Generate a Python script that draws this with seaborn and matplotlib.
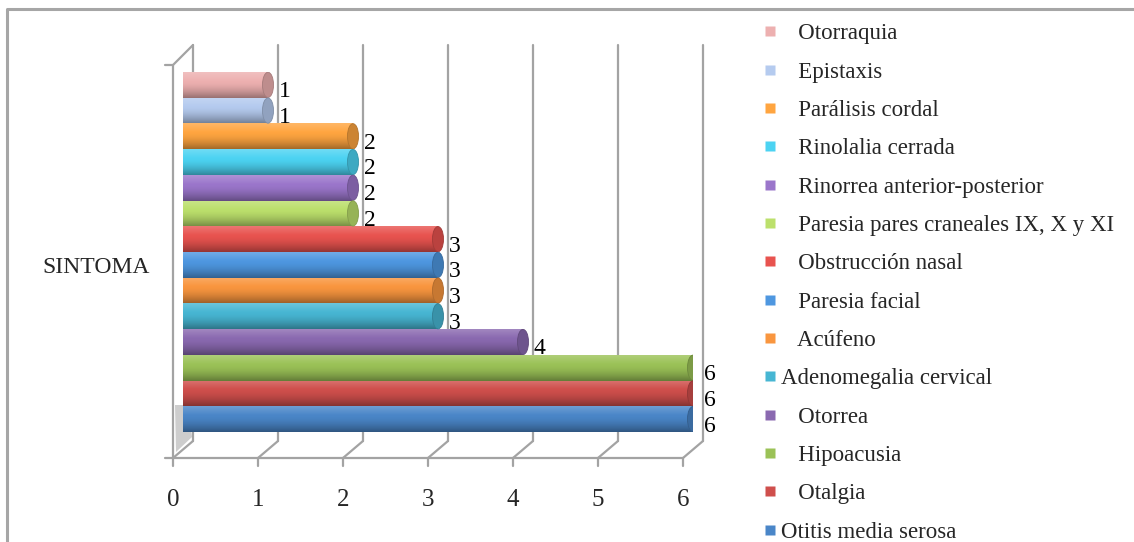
import numpy as np
import pandas as pd
import seaborn as sns
import matplotlib.pyplot as plt
from matplotlib.patches import Ellipse, Polygon
from matplotlib.lines import Line2D
from matplotlib.transforms import ScaledTranslation
import matplotlib.colors as mcolors

# data, top bar first (same order as the legend)
sintomas = ['Otorraquia', 'Epistaxis', 'Parálisis cordal', 'Rinolalia cerrada',
            'Rinorrea anterior-posterior', 'Paresia pares craneales IX, X y XI',
            'Obstrucción nasal', 'Paresia facial', 'Acúfeno', 'Adenomegalia cervical',
            'Otorrea', 'Hipoacusia', 'Otalgia', 'Otitis media serosa']
casos = [1, 1, 2, 2, 2, 2, 3, 3, 3, 3, 4, 6, 6, 6]
colores = ['#EDB0B0', '#B5CBEF', '#FFA540', '#4CD3F2', '#9B76CB', '#BCE06C',
           '#E8534F', '#4E97E0', '#F9963F', '#47B6D3', '#8A69B0', '#9BC257',
           '#CF4F4C', '#4A86C8']
categoria = 'SINTOMA'
xticks = [0, 1, 2, 3, 4, 5, 6]

df = pd.DataFrame({'categoria': categoria, 'sintoma': sintomas, 'casos': casos})

sns.set_style('white')
plt.rcParams['font.family'] = ['Liberation Serif', 'DejaVu Serif']

W, H = 1134, 542
fig = plt.figure(figsize=(W / 100, H / 100), dpi=100)

# overlay in pixel coords for the pseudo-3D frame
fr = fig.add_axes([0, 0, 1, 1], zorder=0)
fr.set_xlim(0, W)
fr.set_ylim(H, 0)
fr.axis('off')

# bar plane: x 0 -> 183 px, 6 -> 693 px; bars from y 72 to 432 px
ax = fig.add_axes([183 / W, (H - 432) / H, 510 / W, 360 / H], zorder=1)
ax.patch.set_alpha(0)

sns.barplot(data=df, x='casos', y='categoria', hue='sintoma', hue_order=sintomas,
            palette=colores, orient='h', width=1.0, saturation=1, legend=False,
            ax=ax, errorbar=None)
ax.set_xlim(0, 6)
ax.set_ylim(0.5, -0.5)


def mix(c, other, f):
    c = np.array(mcolors.to_rgb(c))
    return tuple(c * (1 - f) + np.array(other) * f)


# cylinder shading
prof = np.linspace(0, 1, 64)
for patch, col in zip(ax.patches, colores):
    x0, y0 = patch.get_x(), patch.get_y()
    w, h = patch.get_width(), patch.get_height()
    rows = []
    for t in prof:
        if t < 0.35:
            rows.append(mix(col, (1, 1, 1), 0.2 * (1 - t / 0.35)))
        else:
            rows.append(mix(col, (0, 0, 0), 0.36 * ((t - 0.35) / 0.65) ** 1.6))
    img = np.array(rows).reshape(-1, 1, 3)
    left = Ellipse((x0, y0 + h / 2), 0.13, h, facecolor=mix(col, (0, 0, 0), 0.1),
                   edgecolor='none', zorder=1.5)
    ax.add_patch(left)
    im = ax.imshow(img, extent=(x0, x0 + w, y0 + h, y0), aspect='auto',
                   interpolation='bilinear', zorder=2)
    im.set_clip_path(patch)
    cap = Ellipse((x0 + w, y0 + h / 2), 0.13, h * 0.98,
                  facecolor=mix(col, (0, 0, 0), 0.2), edgecolor=mix(col, (0, 0, 0), 0.3),
                  linewidth=0.6, zorder=3)
    ax.add_patch(cap)
    patch.set_edgecolor('none')
    # value label, on the back wall
    ax.text(x0 + w, y0 + h / 2, str(int(w)), fontsize=17, color='black',
            ha='left', va='center', zorder=4,
            transform=ax.transData + ScaledTranslation(0.11, -0.07, fig.dpi_scale_trans))

ax.set_xlim(0, 6)
ax.set_ylim(0.5, -0.5)
ax.set_xlabel('')
ax.set_ylabel('')
sns.despine(ax=ax, left=True, bottom=True)

# tick labels on the front plane
ax.set_xticks(xticks)
ax.tick_params(axis='x', length=0, pad=41, labelsize=18)
for lab in ax.get_xticklabels():
    lab.set_transform(lab.get_transform() + ScaledTranslation(-0.10, 0, fig.dpi_scale_trans))
ax.tick_params(axis='y', length=0, pad=24, labelsize=17)
for lab in ax.get_yticklabels():
    lab.set_transform(lab.get_transform() + ScaledTranslation(0, -0.13, fig.dpi_scale_trans))

# frame
fig.canvas.draw()
gcol = '#A3A3A3'
back_top, back_bot, front_bot = 45, 441, 458
for v in xticks:
    xb = ax.transData.transform((v, 0))[0]
    xf, xk = xb - 10, xb + 10
    fr.plot([xk, xk], [back_top, back_bot], color=gcol, lw=1.6)
    fr.plot([xf, xk], [front_bot, back_bot], color=gcol, lw=1.6)
    fr.plot([xf, xf], [front_bot, front_bot + 8], color=gcol, lw=1.6)
x0f = ax.transData.transform((0, 0))[0] - 10
x6f = ax.transData.transform((6, 0))[0] - 10
fr.add_patch(Polygon([(x0f + 2, 405), (x0f + 15, 405), (x0f + 19, 437), (x0f + 3, 452)],
                     closed=True, facecolor='#CDCDCD', edgecolor='none'))
fr.plot([x0f - 8, x6f], [front_bot, front_bot], color=gcol, lw=1.6)
fr.plot([x0f, x0f], [65, front_bot], color=gcol, lw=1.6)
fr.plot([x0f - 8, x0f, x0f + 20], [65, 65, back_top], color=gcol, lw=1.6)

# outer chart border
fr.plot([7, 7, W], [H, 9, 9], color='#A6A6A6', lw=2.2)

# legend
pad = '   '
leg_labels = [s if s in ('Adenomegalia cervical', 'Otitis media serosa') else pad + s
              for s in sintomas]
handles = [Line2D([], [], marker='s', linestyle='none', markersize=7,
                  markerfacecolor=c, markeredgecolor='none') for c in colores]
fig.legend(handles, leg_labels, loc='upper left', bbox_to_anchor=(755 / W, 1 - 14 / H),
           frameon=False, fontsize=16.5, handlelength=0.55, handletextpad=0.2,
           labelspacing=0.755, borderaxespad=0)

fig.savefig('out.png', dpi=100)
